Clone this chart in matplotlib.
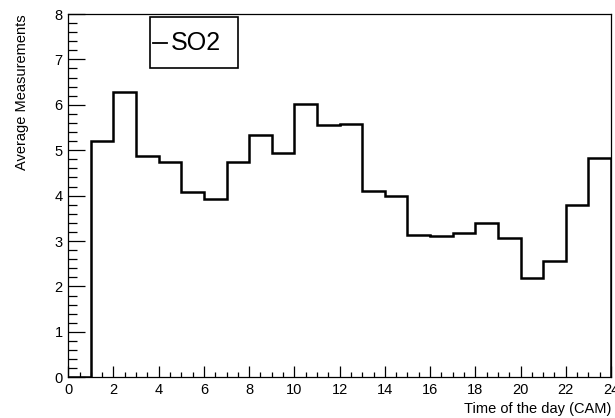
import numpy as np
import matplotlib
matplotlib.use('Agg')
import matplotlib.pyplot as plt
from matplotlib.ticker import MultipleLocator

plt.rcParams['font.family'] = ['Liberation Sans', 'DejaVu Sans']

# hourly bins (CAM time), one value per hour
hour_edges = np.arange(0, 25)
so2_mean = [0.0, 5.20, 6.28, 4.87, 4.74, 4.08, 3.93, 4.74, 5.34, 4.94,
            6.02, 5.56, 5.58, 4.11, 3.99, 3.13, 3.11, 3.17, 3.39, 3.06,
            2.18, 2.55, 3.80, 4.83]

line_color = 'black'


def plot_hourly(edges, values, fileout=None):
    """Plots hourly average SO2 as a step histogram"""

    fig = plt.figure(figsize=(6.15, 4.18), dpi=100)
    ax = fig.add_axes([0.111, 0.0974, 0.8825, 0.8691])

    ax.stairs(values, edges, color=line_color, linewidth=1.8, label='SO2')

    ax.set_xlim(0, 24)
    ax.set_ylim(0, 8)

    ax.xaxis.set_major_locator(MultipleLocator(2))
    ax.xaxis.set_minor_locator(MultipleLocator(0.5))
    ax.yaxis.set_major_locator(MultipleLocator(1))
    ax.yaxis.set_minor_locator(MultipleLocator(0.2))

    ax.tick_params(axis='both', which='both', direction='in', width=0.9,
                   labelsize=10.5, colors='black')
    ax.tick_params(axis='x', which='major', length=7.7, pad=4)
    ax.tick_params(axis='x', which='minor', length=3.4)
    ax.tick_params(axis='y', which='major', length=12.2, pad=4)
    ax.tick_params(axis='y', which='minor', length=6.5)

    for side in ax.spines.values():
        side.set_linewidth(0.9)

    ax.set_xlabel('Time of the day (CAM)', fontsize=10.5, loc='right', labelpad=4)
    ax.set_ylabel('Average Measurements', fontsize=10.5, loc='top', labelpad=18)

    # tall row with thin side padding, like a ROOT TLegend box
    leg = ax.legend(loc='upper left', bbox_to_anchor=(0.1505, 0.9917, 0.162, 0.0),
                    mode='expand', fontsize=18, handlelength=0.55, handletextpad=0.17,
                    handleheight=2.4, borderpad=0.12, borderaxespad=0.0,
                    fancybox=False, framealpha=1.0, edgecolor='black')
    leg.get_frame().set_linewidth(1.2)

    # centre the line marker on the label text
    fig.canvas.draw()
    txt = leg.get_texts()[0]
    ymid = txt.get_window_extent().y0 + 0.5 * txt.get_window_extent().height
    for h in leg.get_lines():
        h.set_linewidth(1.3)
        xd = h.get_xdata()
        inv = h.get_transform().inverted()
        _, yd = inv.transform((0, ymid))
        h.set_ydata([yd] * len(xd))

    if fileout:
        fig.savefig(fileout, dpi=100)
    else:
        plt.show()

    return


def main():
    plot_hourly(hour_edges, so2_mean, fileout='out.png')


if __name__ == "__main__":
    main()
